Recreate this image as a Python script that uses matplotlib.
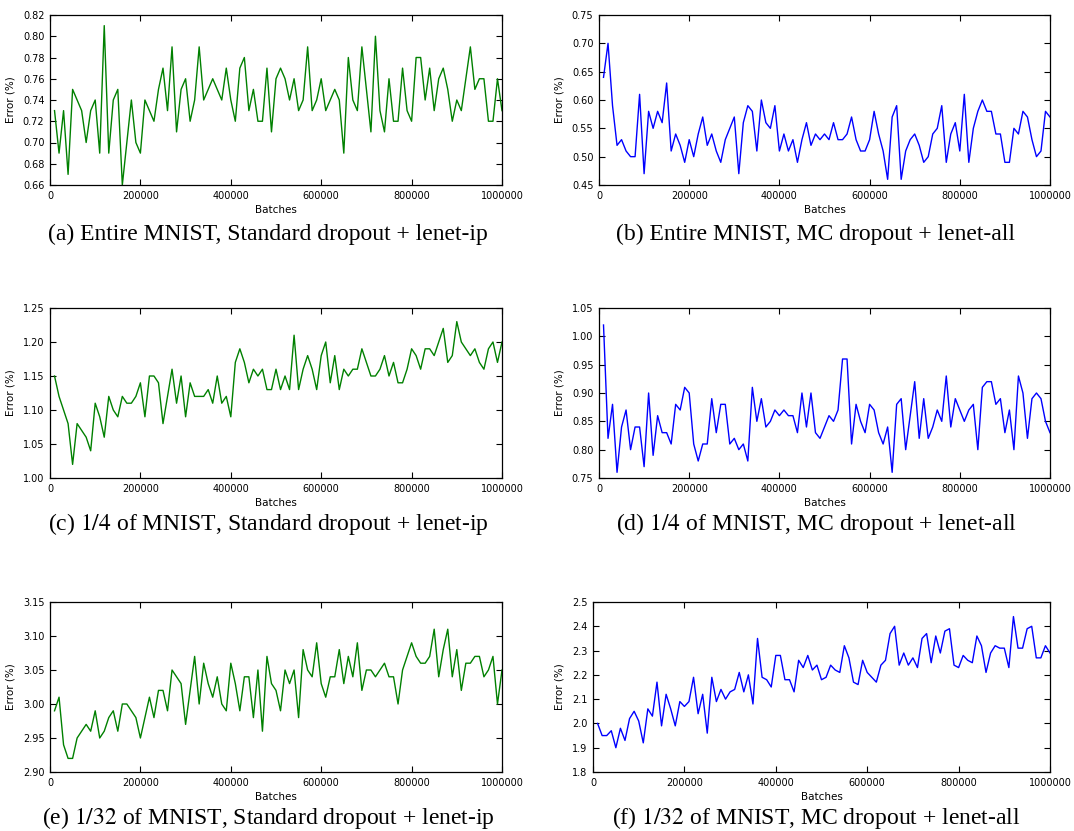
import numpy as np
import matplotlib
matplotlib.use("Agg")
import matplotlib.pyplot as plt

BATCHES = list(range(10000, 1000001, 10000))

ERR_A = [0.73, 0.69, 0.73, 0.67, 0.75, 0.74, 0.73, 0.70, 0.73, 0.74,
         0.69, 0.81, 0.69, 0.74, 0.75, 0.66, 0.70, 0.74, 0.70, 0.69,
         0.74, 0.73, 0.72, 0.75, 0.77, 0.73, 0.79, 0.71, 0.75, 0.76,
         0.72, 0.74, 0.79, 0.74, 0.75, 0.76, 0.75, 0.74, 0.77, 0.74,
         0.72, 0.77, 0.78, 0.73, 0.75, 0.72, 0.72, 0.77, 0.71, 0.76,
         0.77, 0.76, 0.74, 0.76, 0.73, 0.74, 0.79, 0.73, 0.74, 0.76,
         0.73, 0.74, 0.75, 0.74, 0.69, 0.78, 0.74, 0.73, 0.79, 0.75,
         0.71, 0.80, 0.73, 0.71, 0.76, 0.72, 0.72, 0.77, 0.73, 0.72,
         0.78, 0.78, 0.74, 0.77, 0.73, 0.76, 0.77, 0.75, 0.72, 0.74,
         0.73, 0.76, 0.79, 0.75, 0.76, 0.76, 0.72, 0.72, 0.76, 0.73]

ERR_B = [0.64, 0.70, 0.59, 0.52, 0.53, 0.51, 0.50, 0.50, 0.61, 0.47,
         0.58, 0.55, 0.58, 0.56, 0.63, 0.51, 0.54, 0.52, 0.49, 0.53,
         0.50, 0.54, 0.57, 0.52, 0.54, 0.51, 0.49, 0.53, 0.55, 0.57,
         0.47, 0.56, 0.59, 0.58, 0.51, 0.60, 0.56, 0.55, 0.59, 0.51,
         0.54, 0.51, 0.53, 0.49, 0.53, 0.56, 0.52, 0.54, 0.53, 0.54,
         0.53, 0.56, 0.53, 0.53, 0.54, 0.57, 0.53, 0.51, 0.51, 0.53,
         0.58, 0.54, 0.51, 0.46, 0.57, 0.59, 0.46, 0.51, 0.53, 0.54,
         0.52, 0.49, 0.50, 0.54, 0.55, 0.59, 0.49, 0.54, 0.56, 0.51,
         0.61, 0.49, 0.55, 0.58, 0.60, 0.58, 0.58, 0.54, 0.54, 0.49,
         0.49, 0.55, 0.54, 0.58, 0.57, 0.53, 0.50, 0.51, 0.58, 0.57]

ERR_C = [1.15, 1.12, 1.10, 1.08, 1.02, 1.08, 1.07, 1.06, 1.04, 1.11,
         1.09, 1.06, 1.12, 1.10, 1.09, 1.12, 1.11, 1.11, 1.12, 1.14,
         1.09, 1.15, 1.15, 1.14, 1.08, 1.12, 1.16, 1.11, 1.15, 1.09,
         1.14, 1.12, 1.12, 1.12, 1.13, 1.11, 1.15, 1.11, 1.12, 1.09,
         1.17, 1.19, 1.17, 1.14, 1.16, 1.15, 1.16, 1.13, 1.13, 1.16,
         1.13, 1.15, 1.13, 1.21, 1.13, 1.16, 1.18, 1.16, 1.13, 1.18,
         1.20, 1.14, 1.18, 1.13, 1.16, 1.15, 1.16, 1.16, 1.19, 1.17,
         1.15, 1.15, 1.16, 1.18, 1.15, 1.17, 1.14, 1.14, 1.16, 1.19,
         1.18, 1.16, 1.19, 1.19, 1.18, 1.20, 1.22, 1.17, 1.18, 1.23,
         1.20, 1.19, 1.18, 1.19, 1.17, 1.16, 1.19, 1.20, 1.17, 1.20]

ERR_D = [1.02, 0.82, 0.88, 0.76, 0.84, 0.87, 0.80, 0.84, 0.84, 0.77,
         0.90, 0.79, 0.86, 0.83, 0.83, 0.81, 0.88, 0.87, 0.91, 0.90,
         0.81, 0.78, 0.81, 0.81, 0.89, 0.83, 0.88, 0.88, 0.81, 0.82,
         0.80, 0.81, 0.78, 0.91, 0.85, 0.89, 0.84, 0.85, 0.87, 0.86,
         0.87, 0.86, 0.86, 0.83, 0.90, 0.84, 0.90, 0.83, 0.82, 0.84,
         0.86, 0.85, 0.87, 0.96, 0.96, 0.81, 0.88, 0.85, 0.83, 0.88,
         0.87, 0.83, 0.81, 0.84, 0.76, 0.88, 0.89, 0.80, 0.86, 0.92,
         0.82, 0.89, 0.82, 0.84, 0.87, 0.85, 0.93, 0.84, 0.89, 0.87,
         0.85, 0.87, 0.88, 0.80, 0.91, 0.92, 0.92, 0.88, 0.89, 0.83,
         0.87, 0.80, 0.93, 0.90, 0.82, 0.89, 0.90, 0.89, 0.85, 0.83]

ERR_E = [2.99, 3.01, 2.94, 2.92, 2.92, 2.95, 2.96, 2.97, 2.96, 2.99,
         2.95, 2.96, 2.98, 2.99, 2.96, 3.00, 3.00, 2.99, 2.98, 2.95,
         2.98, 3.01, 2.98, 3.02, 3.02, 2.99, 3.05, 3.04, 3.03, 2.97,
         3.02, 3.07, 3.00, 3.06, 3.03, 3.01, 3.04, 3.00, 2.99, 3.06,
         3.03, 2.99, 3.04, 3.04, 2.98, 3.05, 2.96, 3.07, 3.03, 3.02,
         2.99, 3.05, 3.03, 3.05, 2.98, 3.08, 3.05, 3.04, 3.09, 3.03,
         3.01, 3.04, 3.04, 3.08, 3.03, 3.07, 3.04, 3.09, 3.02, 3.05,
         3.05, 3.04, 3.05, 3.06, 3.04, 3.04, 3.00, 3.05, 3.07, 3.09,
         3.07, 3.06, 3.06, 3.07, 3.11, 3.04, 3.08, 3.11, 3.04, 3.08,
         3.02, 3.06, 3.06, 3.07, 3.07, 3.04, 3.05, 3.07, 3.00, 3.05]

ERR_F = [2.00, 1.95, 1.95, 1.97, 1.90, 1.98, 1.93, 2.02, 2.05, 2.01,
         1.92, 2.06, 2.03, 2.17, 1.99, 2.12, 2.06, 1.99, 2.09, 2.07,
         2.09, 2.19, 2.04, 2.12, 1.96, 2.19, 2.09, 2.14, 2.10, 2.13,
         2.14, 2.21, 2.13, 2.20, 2.08, 2.35, 2.19, 2.18, 2.15, 2.28,
         2.28, 2.18, 2.18, 2.13, 2.26, 2.23, 2.28, 2.22, 2.24, 2.18,
         2.19, 2.24, 2.22, 2.21, 2.32, 2.27, 2.17, 2.16, 2.26, 2.21,
         2.19, 2.17, 2.24, 2.26, 2.37, 2.40, 2.24, 2.29, 2.24, 2.27,
         2.23, 2.35, 2.37, 2.25, 2.36, 2.29, 2.38, 2.39, 2.24, 2.23,
         2.28, 2.26, 2.25, 2.36, 2.32, 2.21, 2.29, 2.32, 2.31, 2.31,
         2.23, 2.44, 2.31, 2.31, 2.39, 2.40, 2.27, 2.27, 2.32, 2.29]

CAPTIONS = [
    "(a) Entire MNIST, Standard dropout + lenet-ip",
    "(b) Entire MNIST, MC dropout + lenet-all",
    "(c) $1/4$ of MNIST, Standard dropout + lenet-ip",
    "(d) $1/4$ of MNIST, MC dropout + lenet-all",
    "(e) $1/32$ of MNIST, Standard dropout + lenet-ip",
    "(f) $1/32$ of MNIST, MC dropout + lenet-all",
]
SERIES = [ERR_A, ERR_B, ERR_C, ERR_D, ERR_E, ERR_F]
COLORS = ["g", "b", "g", "b", "g", "b"]
YLIMS = [(0.66, 0.82), (0.45, 0.75), (1.00, 1.25), (0.75, 1.05), (2.90, 3.15), (1.8, 2.5)]
YSTEPS = [0.02, 0.05, 0.05, 0.05, 0.05, 0.1]
YFMT = ["%.2f", "%.2f", "%.2f", "%.2f", "%.2f", "%.1f"]

plt.rcParams['mathtext.fontset'] = 'stix'

fig = plt.figure(figsize=(10.74, 8.31), dpi=100)

W, H = 1074.0, 831.0
lefts = [50, 599]
bottoms = [185, 478, 772]
caption_y = [234, 524, 818]
caption_x = [268, 816]

for i in range(6):
    row, col = divmod(i, 2)
    left = lefts[col]
    if i == 5:
        left = 593
    right = 502 if col == 0 else 1050
    ax = fig.add_axes([left / W, 1 - bottoms[row] / H, (right - left) / W, 170 / H])
    ax.plot(BATCHES, SERIES[i], color=COLORS[i], linewidth=1.0)
    ax.set_xlim(0, 1000000)
    ax.set_ylim(*YLIMS[i])
    lo, hi = YLIMS[i]
    ax.set_yticks(np.arange(lo, hi + YSTEPS[i] / 2, YSTEPS[i]))
    ax.yaxis.set_major_formatter(matplotlib.ticker.FormatStrFormatter(YFMT[i]))
    ax.set_xticks(range(0, 1000001, 200000))
    ax.ticklabel_format(axis='x', style='plain', useOffset=False)
    ax.tick_params(direction='in', top=True, right=True, labelsize=7,
                   length=4, width=0.8, pad=4)
    for s in ax.spines.values():
        s.set_linewidth(0.9)
    ax.set_xlabel("Batches", fontsize=7.5, labelpad=3)
    ax.set_ylabel("Error (%)", fontsize=7.5, labelpad=5)
    fig.text(caption_x[col] / W, 1 - caption_y[row] / H, CAPTIONS[i],
             ha='center', va='center', fontsize=17, family='Liberation Serif')

fig.savefig("out.png", dpi=100)
